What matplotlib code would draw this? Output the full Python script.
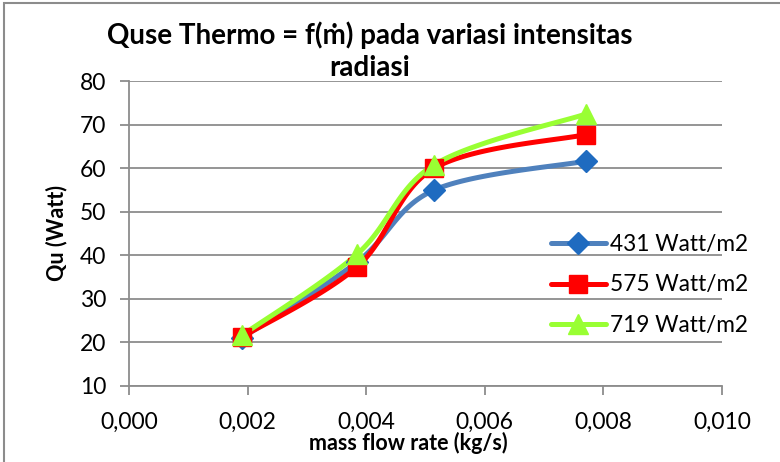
import numpy as np
import matplotlib
matplotlib.use('Agg')
import matplotlib.pyplot as plt
from matplotlib.patches import Rectangle
from matplotlib.ticker import FuncFormatter

plt.rcParams['font.family'] = ['Lato', 'DejaVu Sans']

# data
mdot = [0.0019, 0.00385, 0.00515, 0.0077]
q_431 = [21.0, 38.5, 55.0, 61.6]
q_575 = [21.2, 37.4, 60.0, 67.7]
q_719 = [21.6, 40.3, 60.8, 72.4]
labels = ['431 Watt/m2', '575 Watt/m2', '719 Watt/m2']

X_MAX, Y_MIN, Y_MAX = 0.010, 10, 80


def smooth(x, y, n=40):
    """Excel-style smoothed line (Catmull-Rom bezier), done in screen-ish units."""
    sx, sy = 593.0 / X_MAX, 305.0 / (Y_MAX - Y_MIN)
    p = np.column_stack([np.asarray(x) * sx, np.asarray(y) * sy])
    out = [p[0]]
    t = np.linspace(0, 1, n)[1:, None]
    for i in range(len(p) - 1):
        p0 = p[max(i - 1, 0)]
        p3 = p[min(i + 2, len(p) - 1)]
        a, d = p[i], p[i + 1]
        b = a + (d - p0) / 6.0
        c = d - (p3 - a) / 6.0
        seg = ((1 - t) ** 3) * a + 3 * ((1 - t) ** 2) * t * b + 3 * (1 - t) * t ** 2 * c + t ** 3 * d
        out.extend(seg)
    out = np.array(out)
    return out[:, 0] / sx, out[:, 1] / sy


fig = plt.figure(figsize=(7.8, 4.62), dpi=100)
ax = fig.add_axes([129 / 780, 1 - 386 / 462, (722 - 129) / 780, (386 - 81) / 462])

series = [
    (q_431, '#4F81BD', 'D', '#1F6BC0', 11.5),
    (q_575, '#FF0000', 's', '#FF0000', 13.5),
    (q_719, '#99FF33', '^', '#99FF33', 14.5),
]
for (q, col, mk, mcol, ms), lab in zip(series, labels):
    xs, ys = smooth(mdot, q)
    ax.plot(xs, ys, color=col, lw=3.6, solid_capstyle='round', zorder=3)
    ax.plot(mdot, q, ls='none', marker=mk, ms=ms, color=mcol, zorder=4)
    ax.plot([], [], color=col, lw=3.6, marker=mk, ms=ms, mfc=mcol, mec=mcol,
            solid_capstyle='round', label=lab)

ax.set_xlim(0, X_MAX)
ax.set_ylim(Y_MIN, Y_MAX)
ax.set_xticks(np.arange(0, 0.0101, 0.002))
ax.set_yticks(range(10, 81, 10))
ax.xaxis.set_major_formatter(FuncFormatter(lambda v, _: f'{v:.3f}'.replace('.', ',')))
ax.grid(axis='y', color='#8c8c8c', lw=1.3)
ax.set_axisbelow(True)
for s in ['top', 'right']:
    ax.spines[s].set_visible(False)
for s in ['left', 'bottom']:
    ax.spines[s].set_color('#8c8c8c')
    ax.spines[s].set_linewidth(1.3)
ax.tick_params(colors='#8c8c8c', labelcolor='black', labelsize=16.5, length=6.5, width=1.3)
ax.tick_params(axis='x', pad=12)
ax.tick_params(axis='y', pad=10)

fig.text(408 / 780, 1 - 443 / 462, 'mass flow rate (kg/s)', ha='center', va='center',
         fontsize=15.5, fontweight='bold')
fig.text(57 / 780, 1 - 233 / 462, 'Qu (Watt)', ha='center', va='center', rotation=90,
         fontsize=15.5, fontweight='bold')

fig.text(370 / 780, 1 - 51 / 462, 'Quse Thermo = f(ṁ) pada variasi intensitas\nradiasi',
         ha='center', va='center', fontsize=20, fontweight='bold', linespacing=1.3)

ax.legend(loc='center left', bbox_to_anchor=(540 / 780, 1 - 285 / 462),
          bbox_transform=fig.transFigure, frameon=False, fontsize=16.3,
          handlelength=2.4, handletextpad=0.2, labelspacing=0.85, borderpad=0)

fig.add_artist(Rectangle((4 / 780, -0.1), 1.2, 1 - 3 / 462 + 0.1, transform=fig.transFigure,
                         fill=False, ec='#8c8c8c', lw=1.5))

fig.savefig('out.png', dpi=100)
